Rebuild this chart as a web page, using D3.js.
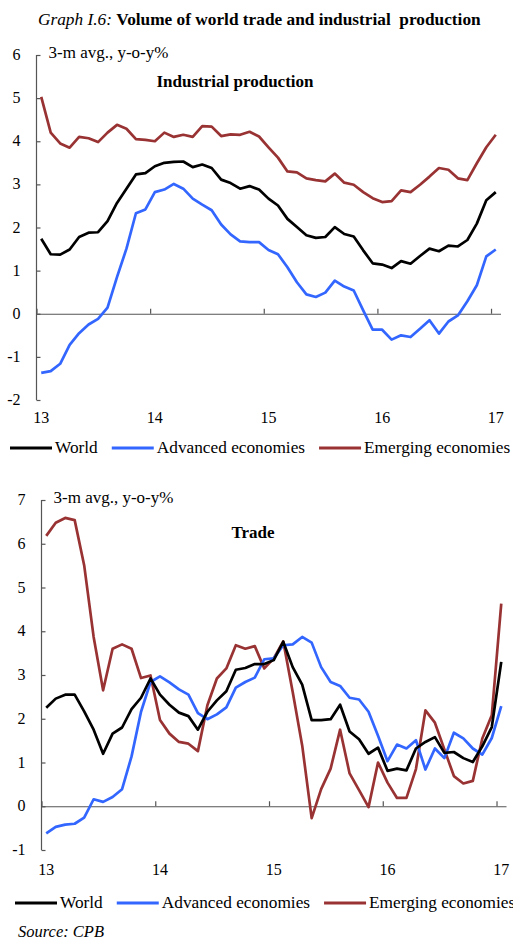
<!DOCTYPE html>
<html>
<head>
<meta charset="utf-8">
<script src="https://cdn.jsdelivr.net/npm/d3@7"></script>
<style>
  body { margin: 0; background: #fff; }
  text { font-family: "Liberation Serif", "Times New Roman", serif; fill: #000; }
</style>
</head>
<body>
<script>
// monthly, Jan 2013 .. Jan 2017 (49 obs)
var yearLabels = ["13", "14", "15", "16", "17"];
var seriesNames = ["World", "Advanced economies", "Emerging economies"];
var seriesColors = ["#000000", "#3366ff", "#993333"];

var ipWorld = [1.74,1.38,1.37,1.49,1.78,1.88,1.89,2.15,2.57,2.9,
  3.23,3.26,3.42,3.5,3.52,3.53,3.4,3.46,3.38,3.11,
  3.03,2.9,2.96,2.88,2.67,2.51,2.2,2.01,1.82,1.76,
  1.78,2.01,1.85,1.79,1.47,1.17,1.14,1.06,1.22,1.16,
  1.34,1.51,1.45,1.58,1.56,1.71,2.09,2.63,2.82];
var ipAdvanced = [-1.37,-1.33,-1.16,-0.72,-0.45,-0.25,-0.12,0.14,0.85,1.51,
  2.33,2.42,2.82,2.88,3.01,2.9,2.67,2.53,2.4,2.07,
  1.84,1.68,1.66,1.66,1.48,1.38,1.08,0.73,0.45,0.39,
  0.49,0.77,0.63,0.54,0.08,-0.37,-0.37,-0.6,-0.5,-0.54,
  -0.35,-0.15,-0.46,-0.18,-0.04,0.29,0.66,1.33,1.49];
var ipEmerging = [5.03,4.2,3.95,3.85,4.1,4.07,3.98,4.2,4.38,4.29,
  4.05,4.03,4.0,4.2,4.1,4.15,4.1,4.35,4.34,4.12,
  4.16,4.15,4.22,4.11,3.86,3.62,3.3,3.28,3.14,3.1,
  3.07,3.25,3.04,2.99,2.82,2.68,2.59,2.61,2.86,2.82,
  2.99,3.18,3.38,3.34,3.14,3.1,3.49,3.86,4.15];

var tradeWorld = [2.25,2.46,2.55,2.55,2.17,1.75,1.2,1.66,1.8,2.22,
  2.48,2.92,2.55,2.32,2.14,2.06,1.75,2.16,2.42,2.63,
  3.12,3.16,3.25,3.25,3.34,3.76,3.18,2.78,1.97,1.97,
  1.99,2.32,1.71,1.53,1.2,1.34,0.81,0.86,0.82,1.32,
  1.47,1.58,1.22,1.24,1.1,1.01,1.37,1.81,3.3];
var tradeAdvanced = [-0.62,-0.47,-0.42,-0.4,-0.26,0.16,0.1,0.21,0.39,1.14,
  2.16,2.84,2.97,2.83,2.67,2.55,2.13,1.99,2.1,2.26,
  2.71,2.84,2.94,3.36,3.38,3.68,3.7,3.87,3.74,3.18,
  2.84,2.75,2.48,2.44,2.16,1.61,1.03,1.41,1.32,1.51,
  0.84,1.32,1.1,1.68,1.55,1.32,1.18,1.56,2.29];
var tradeEmerging = [6.18,6.48,6.59,6.54,5.51,3.87,2.65,3.6,3.7,3.6,
  2.93,2.99,1.97,1.66,1.47,1.43,1.26,2.31,2.92,3.15,
  3.68,3.6,3.66,3.15,3.38,3.77,2.61,1.39,-0.27,0.39,
  0.86,1.75,0.75,0.37,-0.02,1.0,0.54,0.19,0.19,0.85,
  2.19,1.91,1.3,0.69,0.52,0.58,1.55,2.08,4.63];

var W = 513, H = 941;
var svg = d3.select("body").append("svg")
    .attr("width", W)
    .attr("height", H);

svg.append("text")
    .attr("x", 38)
    .attr("y", 25)
    .style("font-size", "17.3px")
    .style("white-space", "pre")
    .call(function(t) {
      t.append("tspan").style("font-style", "italic").text("Graph I.6: ");
      t.append("tspan").style("font-weight", "bold").text("Volume of world trade and industrial  production");
    });

function panel(opt) {
  var x = d3.scaleLinear()
      .domain([-0.5, 48.5])
      .range([opt.left, opt.right]);
  var y = d3.scaleLinear()
      .domain(opt.yDomain)
      .range([opt.bottom, opt.top]);

  var g = svg.append("g");

  // y axis, ticks inside
  g.append("g")
      .attr("transform", "translate(" + opt.left + ",0)")
      .call(d3.axisRight(y).ticks(opt.yDomain[1] - opt.yDomain[0]).tickSize(4).tickFormat(""))
      .call(function(a) { a.select(".domain").attr("d", "M0," + y.range()[0] + "V" + y.range()[1]); })
      .selectAll("line, path").attr("stroke", "#555").attr("stroke-width", 1.2);

  g.selectAll(".ylab")
      .data(y.ticks(opt.yDomain[1] - opt.yDomain[0]))
      .enter().append("text")
      .attr("x", opt.left - 16)
      .attr("y", function(d) { return y(d) + 5; })
      .attr("text-anchor", "end")
      .style("font-size", "16px")
      .text(function(d) { return d; });

  // x axis on zero line, ticks upward
  g.append("g")
      .attr("transform", "translate(0," + y(0) + ")")
      .call(d3.axisTop(x).tickValues([-0.5, 11.5, 23.5, 35.5, 47.5]).tickSize(5).tickSizeOuter(0).tickFormat(""))
      .selectAll("line, path").attr("stroke", "#555").attr("stroke-width", 1.2);

  g.selectAll(".xlab")
      .data(yearLabels)
      .enter().append("text")
      .attr("x", function(d, i) { return x(i * 12); })
      .attr("y", y(opt.yDomain[0]) + opt.xLabelGap)
      .attr("text-anchor", "middle")
      .style("font-size", "16px")
      .text(function(d) { return d; });

  g.append("text")
      .attr("x", opt.left + 12)
      .attr("y", y(opt.yDomain[1]) + 3)
      .style("font-size", "17px")
      .text("3-m avg., y-o-y%");

  g.append("text")
      .attr("x", opt.titleX)
      .attr("y", opt.titleY)
      .attr("text-anchor", "middle")
      .style("font-size", "17px")
      .style("font-weight", "bold")
      .text(opt.title);

  var line = d3.line()
      .x(function(d, i) { return x(i); })
      .y(function(d) { return y(d); });

  // draw order: emerging, advanced, world on top
  [2, 1, 0].forEach(function(k) {
    g.append("path")
        .datum(opt.series[k])
        .attr("d", line)
        .attr("fill", "none")
        .attr("stroke", seriesColors[k])
        .attr("stroke-width", 2.7)
        .attr("stroke-linejoin", "round");
  });

  // legend
  var lx = opt.legendX;
  seriesNames.forEach(function(name, k) {
    g.append("line")
        .attr("x1", lx).attr("x2", lx + 42)
        .attr("y1", opt.legendY).attr("y2", opt.legendY)
        .attr("stroke", seriesColors[k])
        .attr("stroke-width", 3);
    var t = g.append("text")
        .attr("x", lx + 45)
        .attr("y", opt.legendY + 5)
        .style("font-size", "17.3px")
        .text(name);
    lx += 45 + t.node().getComputedTextLength() + 14;
  });
}

panel({
  left: 36.5, right: 500.5, top: 55, bottom: 400,
  yDomain: [-2, 6], xLabelGap: 23,
  title: "Industrial production", titleX: 235, titleY: 87,
  series: [ipWorld, ipAdvanced, ipEmerging],
  legendX: 10, legendY: 448
});

panel({
  left: 41.5, right: 506, top: 500, bottom: 850,
  yDomain: [-1, 7], xLabelGap: 25,
  title: "Trade", titleX: 253, titleY: 538,
  series: [tradeWorld, tradeAdvanced, tradeEmerging],
  legendX: 15, legendY: 903
});

svg.append("text")
    .attr("x", 18)
    .attr("y", 937)
    .style("font-size", "16.5px")
    .style("font-style", "italic")
    .text("Source: CPB");
</script>
</body>
</html>
